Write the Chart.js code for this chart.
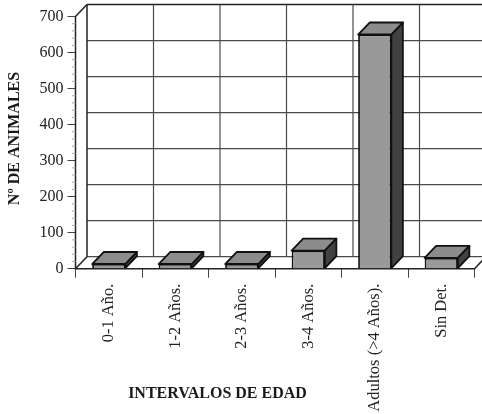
<!DOCTYPE html>
<html>
<head>
<meta charset="utf-8">
<style>html,body{margin:0;padding:0;background:#fff}#w{width:482px;height:414px;position:relative}</style>
<script src="https://cdn.jsdelivr.net/npm/chart.js@4"></script>
</head>
<body>
<div id="w"><canvas id="c" width="482" height="414"></canvas></div>
<script>
const categories = ["0-1 Año.", "1-2 Años.", "2-3 Años.", "3-4 Años.", "Adultos (>4 Años).", "Sin Det."];
const animals = [13, 13, 13, 50, 650, 30];
const yTicks = [0, 100, 200, 300, 400, 500, 600, 700];
const yTitle = "Nº DE ANIMALES";
const xTitle = "INTERVALOS DE EDAD";

const serif = "'Liberation Serif','Times New Roman',serif";
const DX = 11.5, DY = 12;

const depthPlugin = {
  id: 'depth',
  beforeDatasetsDraw(chart) {
    const c = chart.ctx, {x, y} = chart.scales;
    const a = chart.chartArea;
    c.save();
    // back wall grid
    yTicks.forEach(v => {
      const p = y.getPixelForValue(v) - DY;
      c.strokeStyle = v === 700 ? '#222' : '#4a4a4a';
      c.lineWidth = v === 700 ? 1.5 : 1.2;
      c.beginPath(); c.moveTo(a.left + DX, p); c.lineTo(a.right + DX, p); c.stroke();
    });
    for (let i = 0; i <= categories.length; i++) {
      const px = a.left + (a.right - a.left) * i / categories.length + DX;
      c.strokeStyle = i === 0 ? '#222' : '#4a4a4a';
      c.lineWidth = i === 0 ? 1.5 : 1.2;
      c.beginPath(); c.moveTo(px, a.top - DY); c.lineTo(px, a.bottom - DY); c.stroke();
    }
    // floor and wall edges
    c.strokeStyle = '#222'; c.lineWidth = 1.5;
    c.beginPath();
    c.moveTo(a.left, a.top); c.lineTo(a.left + DX, a.top - DY);
    c.moveTo(a.left, a.bottom); c.lineTo(a.left + DX, a.bottom - DY);
    c.moveTo(a.right, a.bottom); c.lineTo(a.right + DX, a.bottom - DY);
    c.moveTo(a.left, a.top); c.lineTo(a.left, a.bottom); c.lineTo(a.right, a.bottom);
    c.stroke();
    // minor ticks
    c.strokeStyle = '#aaa'; c.lineWidth = 1;
    for (let v = 0; v <= 700; v += 20) {
      if (v % 100 === 0) continue;
      const p = y.getPixelForValue(v);
      c.beginPath(); c.moveTo(a.left - 3.5, p); c.lineTo(a.left, p); c.stroke();
    }
    c.restore();
  },
  afterDatasetsDraw(chart) {
    const c = chart.ctx;
    c.save();
    c.strokeStyle = '#111'; c.lineWidth = 1.8; c.lineJoin = 'round';
    chart.getDatasetMeta(0).data.forEach(b => {
      const w = b.width / 2, l = b.x - w, r = b.x + w, t = b.y, g = b.base;
      c.fillStyle = '#8c8c8c';
      c.beginPath(); c.moveTo(l, t); c.lineTo(l + DX, t - DY); c.lineTo(r + DX, t - DY); c.lineTo(r, t); c.closePath(); c.fill(); c.stroke();
      c.fillStyle = '#414141';
      c.beginPath(); c.moveTo(r, t); c.lineTo(r + DX, t - DY); c.lineTo(r + DX, g - DY); c.lineTo(r, g); c.closePath(); c.fill(); c.stroke();
    });
    c.restore();
  },
  afterDraw(chart) {
    const c = chart.ctx;
    c.save();
    c.fillStyle = '#1a1a1a';
    c.font = "bold 16px " + serif;
    c.textAlign = 'center'; c.textBaseline = 'middle';
    c.fillText(xTitle, 217.5, 393.5);
    c.translate(14.5, 138.5); c.rotate(-Math.PI / 2);
    c.fillText(yTitle, 0, 0);
    c.restore();
  }
};

new Chart(document.getElementById('c'), {
  type: 'bar',
  data: {
    labels: categories,
    datasets: [{
      data: animals,
      backgroundColor: '#999999',
      borderColor: '#111',
      borderWidth: 1.8,
      barPercentage: 0.5,
      categoryPercentage: 1
    }]
  },
  plugins: [depthPlugin],
  options: {
    responsive: false,
    animation: false,
    devicePixelRatio: 1,
    layout: { autoPadding: false, padding: { left: 0, right: 7.5, top: 16.5, bottom: 0 } },
    plugins: { legend: { display: false }, tooltip: { enabled: false } },
    scales: {
      x: {
        afterFit(s) { s.height = 145.3; },
        border: { display: false },
        grid: { drawOnChartArea: false, drawTicks: true, tickLength: 9, color: '#444' },
        ticks: { color: '#222', font: { family: serif, size: 16.5 }, minRotation: 90, maxRotation: 90, padding: 6, autoSkip: false }
      },
      y: {
        min: 0, max: 700,
        afterFit(s) { s.width = 75.5; },
        afterBuildTicks(s) { s.ticks = yTicks.map(v => ({ value: v })); },
        border: { display: false },
        grid: { drawOnChartArea: false, drawTicks: true, tickLength: 8, color: '#444' },
        ticks: { color: '#222', font: { family: serif, size: 16 }, padding: 4 }
      }
    }
  }
});
</script>
</body>
</html>
